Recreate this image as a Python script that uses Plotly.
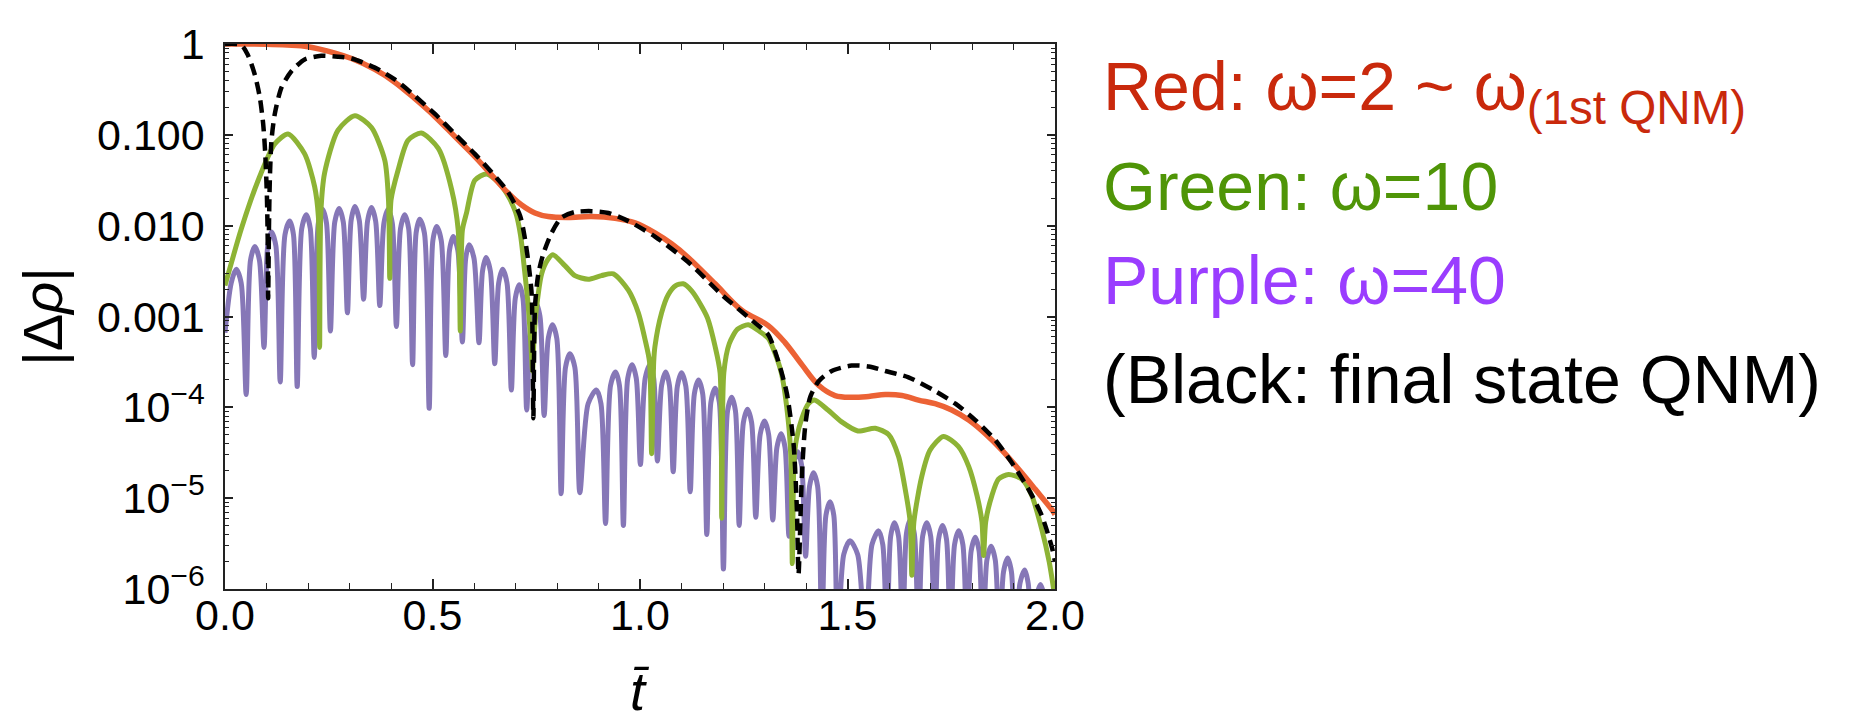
import plotly.graph_objects as go

# ---------------- data: (t, log10 |Δρ|) ----------------
red_pts = [(0.000, 0.000), (0.050, 0.000), (0.100, -0.003), (0.150, -0.012), (0.200, -0.03),
           (0.265, -0.10), (0.305, -0.16), (0.361, -0.28), (0.409, -0.42), (0.457, -0.60),
           (0.506, -0.80), (0.554, -1.02), (0.602, -1.24), (0.642, -1.44), (0.682, -1.64),
           (0.714, -1.77), (0.747, -1.86), (0.779, -1.90), (0.827, -1.91), (0.883, -1.90),
           (0.940, -1.92), (0.988, -1.97), (1.036, -2.08), (1.076, -2.20), (1.116, -2.35),
           (1.181, -2.64), (1.245, -2.93), (1.309, -3.10), (1.350, -3.29), (1.390, -3.53),
           (1.431, -3.76), (1.470, -3.87), (1.510, -3.89), (1.551, -3.88), (1.591, -3.86),
           (1.631, -3.87), (1.671, -3.92), (1.711, -3.96), (1.751, -4.03), (1.792, -4.14),
           (1.832, -4.29), (1.872, -4.47), (1.912, -4.68), (1.952, -4.90), (1.993, -5.13),
           (2.000, -5.18)]

green_pts = [(0.000, -2.66), (0.039, -2.04), (0.080, -1.50), (0.120, -1.10), (0.152, -0.99),
             (0.192, -1.21), (0.216, -1.57), (0.225, -1.90), (0.228, -3.34), (0.231, -1.85),
             (0.240, -1.42), (0.272, -0.95), (0.313, -0.79), (0.353, -0.92), (0.385, -1.28),
             (0.394, -1.72), (0.397, -2.58), (0.400, -1.72), (0.417, -1.39), (0.441, -1.06),
             (0.473, -0.98), (0.514, -1.15), (0.546, -1.60), (0.562, -2.05), (0.567, -3.16),
             (0.572, -2.05), (0.582, -1.86), (0.602, -1.50), (0.630, -1.43), (0.658, -1.52),
             (0.678, -1.64), (0.700, -1.85), (0.712, -2.10), (0.722, -2.50), (0.731, -2.90),
             (0.737, -3.30), (0.741, -3.60), (0.745, -3.20), (0.751, -2.89), (0.763, -2.53),
             (0.777, -2.38), (0.790, -2.32), (0.819, -2.44), (0.843, -2.55), (0.875, -2.59),
             (0.907, -2.55), (0.936, -2.53), (0.972, -2.71), (0.996, -2.96), (1.012, -3.25),
             (1.023, -3.50), (1.028, -4.51), (1.033, -3.50), (1.036, -3.33), (1.052, -2.96),
             (1.068, -2.76), (1.086, -2.66), (1.104, -2.64), (1.125, -2.72), (1.150, -2.90),
             (1.163, -3.02), (1.181, -3.33), (1.193, -3.62), (1.197, -5.22), (1.202, -3.62),
             (1.215, -3.30), (1.235, -3.14), (1.261, -3.09), (1.290, -3.17), (1.309, -3.24),
             (1.325, -3.40), (1.341, -3.63), (1.358, -4.18), (1.364, -4.60), (1.367, -5.72),
             (1.371, -4.60), (1.377, -4.35), (1.390, -4.12), (1.406, -3.96), (1.420, -3.92),
             (1.453, -4.03), (1.486, -4.16), (1.525, -4.26), (1.567, -4.23), (1.599, -4.30),
             (1.623, -4.54), (1.639, -4.90), (1.651, -5.26), (1.655, -5.85), (1.660, -5.26),
             (1.679, -4.76), (1.699, -4.47), (1.731, -4.32), (1.767, -4.43), (1.792, -4.65),
             (1.812, -4.97), (1.824, -5.26), (1.828, -5.63), (1.833, -5.26), (1.848, -4.97),
             (1.864, -4.79), (1.888, -4.74), (1.920, -4.79), (1.944, -4.97), (1.968, -5.34),
             (1.986, -5.70), (2.000, -6.10)]

# purple: traced as trough, shoulder, top, shoulder, trough, ... (troughs below 1e-6 are cut by the axis)
purple_pts = [
    (0.000, -3.18), (0.015, -2.63), (0.027, -2.48), (0.039, -2.63), (0.051, -3.86),
    (0.0615, -2.38), (0.072, -2.23), (0.083, -2.38), (0.094, -3.34),
    (0.103, -2.22), (0.112, -2.07), (0.1225, -2.22), (0.133, -3.72),
    (0.1445, -2.10), (0.156, -1.95), (0.165, -2.10), (0.174, -3.77),
    (0.185, -2.03), (0.196, -1.88), (0.2055, -2.03), (0.215, -3.45),
    (0.225, -1.97), (0.235, -1.82), (0.2445, -1.97), (0.254, -3.16),
    (0.2645, -1.96), (0.275, -1.81), (0.285, -1.96), (0.295, -2.96),
    (0.304, -1.94), (0.313, -1.79), (0.3235, -1.94), (0.334, -2.81),
    (0.3435, -1.95), (0.353, -1.80), (0.363, -1.95), (0.373, -2.88),
    (0.383, -1.97), (0.393, -1.82), (0.403, -1.97), (0.413, -3.11),
    (0.423, -2.03), (0.433, -1.88), (0.4425, -2.03), (0.452, -3.53),
    (0.4605, -2.08), (0.469, -1.93), (0.4805, -2.08), (0.492, -4.01),
    (0.501, -2.16), (0.510, -2.01), (0.521, -2.16), (0.532, -3.43),
    (0.541, -2.27), (0.550, -2.12), (0.561, -2.27), (0.572, -3.28),
    (0.580, -2.36), (0.588, -2.21), (0.600, -2.36), (0.612, -3.29),
    (0.6205, -2.50), (0.629, -2.35), (0.6395, -2.50), (0.650, -3.52),
    (0.6595, -2.63), (0.669, -2.48), (0.6795, -2.63), (0.690, -3.81),
    (0.6995, -2.80), (0.709, -2.65), (0.718, -2.80), (0.727, -4.03),
    (0.738, -3.00), (0.749, -2.85), (0.759, -3.00), (0.769, -4.09),
    (0.779, -3.24), (0.789, -3.09), (0.7995, -3.24), (0.810, -4.95),
    (0.8205, -3.56), (0.831, -3.41), (0.843, -3.56), (0.855, -4.94),
    (0.875, -3.96), (0.895, -3.81), (0.906, -3.96), (0.917, -5.28),
    (0.929, -3.76), (0.941, -3.61), (0.9505, -3.76), (0.960, -5.30),
    (0.9705, -3.68), (0.981, -3.53), (0.991, -3.68), (1.001, -4.63),
    (1.0125, -3.68), (1.024, -3.53), (1.033, -3.68), (1.042, -4.59),
    (1.052, -3.76), (1.062, -3.61), (1.071, -3.76), (1.080, -4.71),
    (1.090, -3.77), (1.100, -3.62), (1.1105, -3.77), (1.121, -4.93),
    (1.131, -3.85), (1.141, -3.70), (1.151, -3.85), (1.161, -5.40),
    (1.171, -3.94), (1.181, -3.79), (1.191, -3.94), (1.201, -5.78),
    (1.211, -4.04), (1.221, -3.89), (1.230, -4.04), (1.239, -5.30),
    (1.249, -4.17), (1.259, -4.02), (1.269, -4.17), (1.279, -5.21),
    (1.2895, -4.30), (1.300, -4.15), (1.310, -4.30), (1.320, -5.24),
    (1.330, -4.44), (1.340, -4.29), (1.3495, -4.44), (1.359, -5.42),
    (1.3695, -4.64), (1.380, -4.49), (1.3895, -4.64), (1.399, -5.64),
    (1.4085, -4.87), (1.418, -4.72), (1.428, -4.87), (1.438, -6.60),
    (1.448, -5.19), (1.458, -5.04), (1.467, -5.19), (1.476, -6.60),
    (1.491, -5.62), (1.506, -5.47), (1.5245, -5.62), (1.543, -6.60),
    (1.559, -5.51), (1.575, -5.36), (1.585, -5.51), (1.595, -6.60),
    (1.604, -5.42), (1.613, -5.27), (1.623, -5.42), (1.633, -6.60),
    (1.642, -5.39), (1.651, -5.24), (1.661, -5.39), (1.671, -6.60),
    (1.681, -5.42), (1.691, -5.27), (1.7005, -5.42), (1.710, -6.60),
    (1.7195, -5.45), (1.729, -5.30), (1.7385, -5.45), (1.748, -6.60),
    (1.758, -5.51), (1.768, -5.36), (1.778, -5.51), (1.788, -6.60),
    (1.798, -5.58), (1.808, -5.43), (1.817, -5.58), (1.826, -6.60),
    (1.836, -5.68), (1.846, -5.53), (1.856, -5.68), (1.866, -6.60),
    (1.876, -5.81), (1.886, -5.66), (1.895, -5.81), (1.904, -6.60),
    (1.9155, -5.94), (1.927, -5.79), (1.9355, -5.94), (1.944, -6.60),
    (1.9545, -6.10), (1.965, -5.95), (1.975, -6.10), (1.985, -6.60)]

black_pts = [(0.000, 0.00), (0.039, -0.01), (0.055, -0.12), (0.072, -0.34), (0.084, -0.59),
             (0.092, -0.88), (0.097, -1.21), (0.101, -1.68), (0.103, -2.20), (0.104, -2.80),
             (0.106, -2.00), (0.108, -1.50), (0.112, -1.06), (0.120, -0.77), (0.136, -0.48),
             (0.160, -0.30), (0.192, -0.17), (0.232, -0.13), (0.272, -0.14), (0.305, -0.16),
             (0.361, -0.26), (0.409, -0.39), (0.457, -0.57), (0.506, -0.77), (0.554, -0.99),
             (0.602, -1.21), (0.642, -1.41), (0.682, -1.63), (0.711, -1.89), (0.723, -2.15),
             (0.732, -2.44), (0.739, -2.76), (0.743, -4.12), (0.747, -2.89), (0.755, -2.53),
             (0.767, -2.31), (0.787, -2.08), (0.811, -1.91), (0.843, -1.85), (0.883, -1.84),
             (0.924, -1.86), (0.972, -1.95), (1.036, -2.12), (1.116, -2.40), (1.197, -2.76),
             (1.277, -3.07), (1.309, -3.20), (1.333, -3.49), (1.354, -3.85), (1.370, -4.40),
             (1.378, -5.12), (1.382, -5.84), (1.390, -4.76), (1.398, -4.21), (1.410, -3.89),
             (1.431, -3.71), (1.462, -3.60), (1.510, -3.54), (1.551, -3.55), (1.591, -3.60),
             (1.647, -3.67), (1.711, -3.82), (1.760, -3.96), (1.808, -4.14), (1.856, -4.36),
             (1.896, -4.61), (1.936, -4.90), (1.968, -5.19), (1.993, -5.55), (2.000, -5.70)]

x_tick_vals = [0.0, 0.5, 1.0, 1.5, 2.0]
x_tick_text = ["0.0", "0.5", "1.0", "1.5", "2.0"]
y_tick_vals = [1, 0.1, 0.01, 0.001, 1e-4, 1e-5, 1e-6]
y_tick_text = ["1", "0.100", "0.010", "0.001", "10<sup>−4</sup>", "10<sup>−5</sup>", "10<sup>−6</sup>"]

legend_lines = [
    ("Red: ω=2 ~ ω<sub>(1st QNM)</sub>", "#C9290C", 0.913),
    ("Green: ω=10", "#4F9507", 0.740),
    ("Purple: ω=40", "#9A3DFF", 0.567),
    ("(Black: final state QNM)", "#000000", 0.386),
]

FONT = "Liberation Sans, Arial, Helvetica, sans-serif"


def split(pts):
    return [p[0] for p in pts], [10 ** p[1] for p in pts]


fig = go.Figure()

t, y = split(purple_pts)
fig.add_trace(go.Scatter(x=t, y=y, mode="lines",
                         line=dict(color="#8677B7", width=5, shape="spline", smoothing=0.8)))
t, y = split(green_pts)
fig.add_trace(go.Scatter(x=t, y=y, mode="lines",
                         line=dict(color="#8DB335", width=5, shape="spline", smoothing=0.7)))
t, y = split(red_pts)
fig.add_trace(go.Scatter(x=t, y=y, mode="lines",
                         line=dict(color="#EC6235", width=5.5, shape="spline", smoothing=1.0)))
t, y = split(black_pts)
fig.add_trace(go.Scatter(x=t, y=y, mode="lines",
                         line=dict(color="#000000", width=4.5, dash="12px,7px",
                                   shape="spline", smoothing=0.7)))

axis_common = dict(showline=True, linecolor="#222222", linewidth=1.5, mirror="ticks",
                   ticks="inside", tickcolor="#222222", tickwidth=1.5,
                   showgrid=False, zeroline=False,
                   tickfont=dict(family=FONT, size=43, color="black"))

minor_y = [k * 10.0 ** d for d in range(-6, 0) for k in range(2, 10)]

fig.update_xaxes(range=[0, 2], tickmode="array", tickvals=x_tick_vals, ticktext=x_tick_text,
                 ticklen=10, ticklabelstandoff=-12,
                 minor=dict(dtick=0.1, tick0=0, ticks="inside", ticklen=6, tickwidth=1.2,
                            tickcolor="#222222", showgrid=False),
                 **axis_common)
fig.update_yaxes(type="log", range=[-6, 0], tickmode="array", tickvals=y_tick_vals,
                 ticktext=y_tick_text, ticklen=8, ticklabelstandoff=10,
                 title=dict(text="|Δ<i>ρ</i>|", standoff=16,
                            font=dict(family=FONT, size=56, color="black")),
                 minor=dict(tickmode="array", tickvals=minor_y, ticks="inside", ticklen=4,
                            tickwidth=1.2, tickcolor="#222222", showgrid=False),
                 **axis_common)

annotations = []
for txt, col, ypos in legend_lines:
    annotations.append(dict(text=txt, xref="paper", yref="paper", x=1.055, y=ypos,
                            xanchor="left", yanchor="middle", showarrow=False,
                            font=dict(family=FONT, size=68, color=col)))
annotations.append(dict(text="<i>t\u0304</i>", xref="paper", yref="paper", x=0.5, y=-0.188,
                        xanchor="center", yanchor="middle", showarrow=False,
                        font=dict(family=FONT, size=54, color="black")))

fig.update_layout(width=1870, height=720, autosize=False,
                  margin=dict(l=217, r=823, t=29, b=139, pad=0),
                  plot_bgcolor="white", paper_bgcolor="white", showlegend=False,
                  font=dict(family=FONT, size=43, color="black"),
                  annotations=annotations)

fig.write_html("out.html")
